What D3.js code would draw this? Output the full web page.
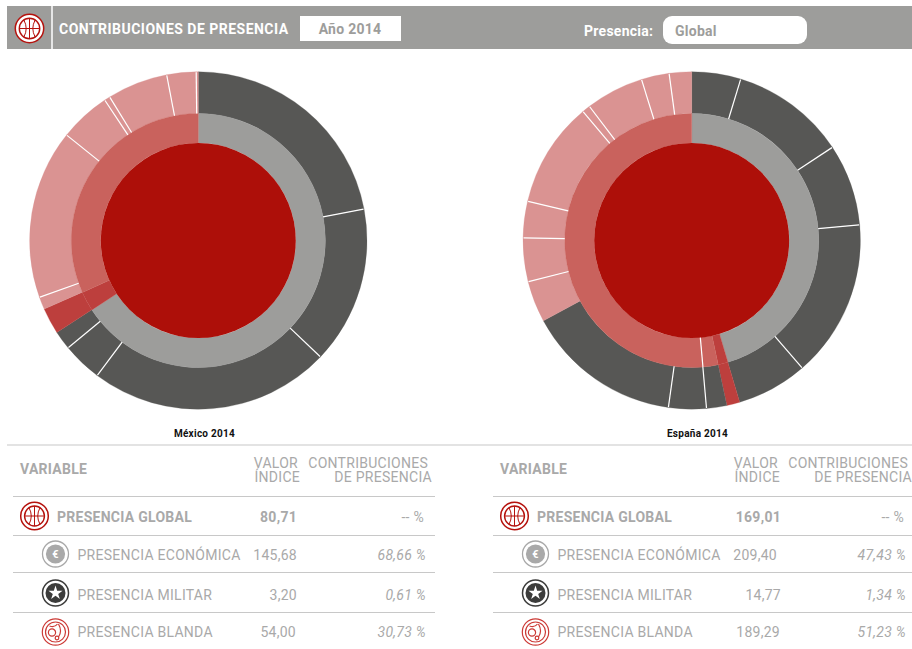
<!DOCTYPE html>
<html><head><meta charset="utf-8">
<script src="https://cdn.jsdelivr.net/npm/d3@7"></script>
<style>html,body{margin:0;padding:0;background:#fff}svg{display:block}text{font-family:Roboto,sans-serif;letter-spacing:.27px}</style>
</head><body><div id="c"></div>
<script>
const chartTitles = ["México 2014", "España 2014"];
const mexOuterValues = [22.0,15.1,23.1,3.8,1.8, 2.5, 1.2,16.2,4.9,0.55,5.8,2.8,0.2];
const mexOuterKinds  = ["eco","eco","eco","eco","eco","mil","sof","sof","sof","sof","sof","sof","sof"];
const mexInnerValues = [65.8,2.5,31.7];
const mexInnerKinds  = ["eco","mil","sof"];
const espOuterValues = [4.69,11.0,7.83,15.11,6.78, 1.25, 1.94,3.61,14.89,3.97,4.17,3.5,10.11,0.78,5.56,2.67,2.14];
const espOuterKinds  = ["eco","eco","eco","eco","eco","mil","eco","eco","eco","sof","sof","sof","sof","sof","sof","sof","sof"];
const espInnerValues = [45.4,1.25,1.94,51.41];
const espInnerKinds  = ["eco","mil","sof","sof"];
const rowNames = ["PRESENCIA GLOBAL","PRESENCIA ECONÓMICA","PRESENCIA MILITAR","PRESENCIA BLANDA"];
const mexIndex = ["80,71","145,68","3,20","54,00"];
const mexShare = ["-- %","68,66 %","0,61 %","30,73 %"];
const espIndex = ["169,01","209,40","14,77","189,29"];
const espShare = ["-- %","47,43 %","1,34 %","51,23 %"];

const W=912,H=649;
const GREY="#9d9d9b",TXT="#a9a9a9",RED="#ad0f09",LINE="#c8c8c8";
const innerColor={eco:"#9d9d9b",mil:"#bd3f3d",sof:"#c9625d"};
const outerColor={eco:"#575755",mil:"#bd3f3d",sof:"#da9392"};
const svg=d3.select("#c").append("svg").attr("width",W).attr("height",H);

// header
svg.append("rect").attr("x",7).attr("y",6).attr("width",905).attr("height",43).attr("fill",GREY);
svg.append("rect").attr("x",51).attr("y",6).attr("width",2).attr("height",43).attr("fill","#e6e6e6");
svg.append("text").attr("x",59).attr("y",34).attr("font-size",14).attr("font-weight",700).attr("fill","#fff").style("letter-spacing",".48px").text("CONTRIBUCIONES DE PRESENCIA");
svg.append("rect").attr("x",300).attr("y",16).attr("width",101).attr("height",25).attr("fill","#fff");
svg.append("text").attr("x",350).attr("y",34).attr("text-anchor","middle").attr("font-size",14).attr("font-weight",700).attr("fill",GREY).text("Año 2014");
svg.append("text").attr("x",584).attr("y",36).attr("font-size",14).attr("font-weight",700).attr("fill","#fff").text("Presencia:");
svg.append("rect").attr("x",663).attr("y",16).attr("width",144).attr("height",28).attr("rx",9).attr("fill","#fff");
svg.append("text").attr("x",675).attr("y",36).attr("font-size",14).attr("font-weight",700).attr("fill",GREY).text("Global");

function iconGlobal(g,cx,cy,r,ringFill){
  const i=g.append("g").attr("transform",`translate(${cx},${cy})`).attr("fill","none").attr("stroke","#b5120d");
  i.append("circle").attr("r",r).attr("fill",ringFill||"#fff").attr("stroke-width",1.5);
  i.append("circle").attr("r",r*0.72).attr("stroke-width",1.4);
  const k=r*0.72;
  i.append("line").attr("x1",-k).attr("x2",k).attr("stroke-width",1);
  i.append("line").attr("y1",-k).attr("y2",k).attr("stroke-width",1);
  i.append("path").attr("d",`M${-k*.55},${-k*.83}Q${-k*.1},0 ${-k*.55},${k*.83}M${k*.55},${-k*.83}Q${k*.1},0 ${k*.55},${k*.83}`).attr("stroke-width",1);
}
function iconEco(g,cx,cy){
  const i=g.append("g").attr("transform",`translate(${cx},${cy})`);
  i.append("circle").attr("r",13).attr("fill","#fff").attr("stroke","#a9a9a9").attr("stroke-width",1.3);
  i.append("circle").attr("r",9.6).attr("fill","#a9a9a9");
  i.append("text").attr("text-anchor","middle").attr("y",4).attr("font-size",11).attr("font-weight",700).attr("fill","#fff").text("€");
}
function iconMil(g,cx,cy){
  const i=g.append("g").attr("transform",`translate(${cx},${cy})`);
  i.append("circle").attr("r",13).attr("fill","#fff").attr("stroke","#3c3c3b").attr("stroke-width",1.5);
  i.append("circle").attr("r",10).attr("fill","#3c3c3b");
  i.append("path").attr("d",d3.symbol().type(d3.symbolStar).size(62)()).attr("fill","#fff");
}
function iconSof(g,cx,cy){
  const i=g.append("g").attr("transform",`translate(${cx},${cy})`).attr("fill","none").attr("stroke","#cc3a36").attr("stroke-width",1.2);
  i.append("circle").attr("r",13.2).attr("fill","#fff");
  i.append("circle").attr("r",10);
  i.append("circle").attr("cx",-3.5).attr("cy",0.5).attr("r",3.6);
  i.append("circle").attr("cx",1.5).attr("cy",6).attr("r",1.8);
  i.append("path").attr("d","M-6,-6Q-1,-4 2,-8M3,-8Q7,-1 3,5");
}
iconGlobal(svg,29.5,28.5,14.2);

function donut(cx,cy,outerV,outerK,innerV,innerK,title,tx){
  const g=svg.append("g").attr("transform",`translate(${cx},${cy})`);
  const pie=d3.pie().sort(null).value(d=>d.v);
  const rCore=97.5,rMid=127,rOut=168.7;
  const layer=(vals,kinds,colors,r0,r1)=>{
    const arcs=pie(vals.map((v,i)=>({v,k:kinds[i]})));
    const arc=d3.arc().innerRadius(r0).outerRadius(r1);
    g.append("g").selectAll("path").data(arcs).join("path").attr("d",arc).attr("fill",d=>colors[d.data.k]).attr("stroke",d=>colors[d.data.k]).attr("stroke-width",0.3);
    return arcs;
  };
  const oa=layer(outerV,outerK,outerColor,rMid,rOut);
  const ia=layer(innerV,innerK,innerColor,rCore,rMid);
  g.append("circle").attr("r",rCore).attr("fill",RED);
  const div=(arcs,r0,r1)=>{
    const b=arcs.filter((d,i)=>i>0&&arcs[i-1].data.k===d.data.k);
    g.append("g").selectAll("line").data(b).join("line")
      .attr("x1",d=>r0*Math.sin(d.startAngle)).attr("y1",d=>-r0*Math.cos(d.startAngle))
      .attr("x2",d=>r1*Math.sin(d.startAngle)).attr("y2",d=>-r1*Math.cos(d.startAngle))
      .attr("stroke","#fff").attr("stroke-width",1.2);
  };
  div(oa,rMid,rOut-0.5); div(ia,rCore,rMid);
  svg.append("text").attr("x",tx).attr("y",437).attr("text-anchor","middle").attr("font-size",10).attr("font-weight",700).attr("fill","#111").text(title);
}
donut(198.3,240.5,mexOuterValues,mexOuterKinds,mexInnerValues,mexInnerKinds,chartTitles[0],204.5);
donut(691.7,240.5,espOuterValues,espOuterKinds,espInnerValues,espInnerKinds,chartTitles[1],697.5);

// tables
svg.append("line").attr("x1",7).attr("x2",912).attr("y1",445).attr("y2",445).attr("stroke",LINE).attr("stroke-width",1.2);
const lineYs=[496.5,535.5,572.5,612.5];
const baseY=[522,560,600,637];
const iconY=[516,554,593,632];
function table(dx,idx,share,x2,idxRight){
  const T=(x,y,s,o={})=>svg.append("text").attr("x",x+dx).attr("y",y).attr("font-size",o.size||14).attr("font-weight",o.w||400)
    .attr("font-style",o.i?"italic":"normal").attr("text-anchor",o.a||"start").attr("fill",TXT).text(s);
  T(20,474,"VARIABLE",{w:700});
  T(298,468,"VALOR",{a:"end"}); T(300,482,"ÍNDICE",{a:"end"});
  T(428,468,"CONTRIBUCIONES",{a:"end"}); T(432,482,"DE PRESENCIA",{a:"end"});
  lineYs.forEach(y=>svg.append("line").attr("x1",13+dx).attr("x2",x2).attr("y1",y).attr("y2",y).attr("stroke",LINE).attr("stroke-width",1.2));
  rowNames.forEach((n,i)=>{
    T(i?77.5:57,baseY[i],n,{w:i?400:700});
    T(idxRight[i],baseY[i],idx[i],{w:i?400:700,a:"end"});
    T(i==0?424:426,baseY[i],share[i],{i:i>0,a:"end"});
  });
  iconGlobal(svg,34.5+dx,iconY[0],13.8);
  iconEco(svg,55.5+dx,iconY[1]); iconMil(svg,55.5+dx,iconY[2]); iconSof(svg,55.5+dx,iconY[3]);
}
table(0,mexIndex,mexShare,435,[297,297,297,296]);
table(480,espIndex,espShare,912,[301,297,301,300]);
</script></body></html>
